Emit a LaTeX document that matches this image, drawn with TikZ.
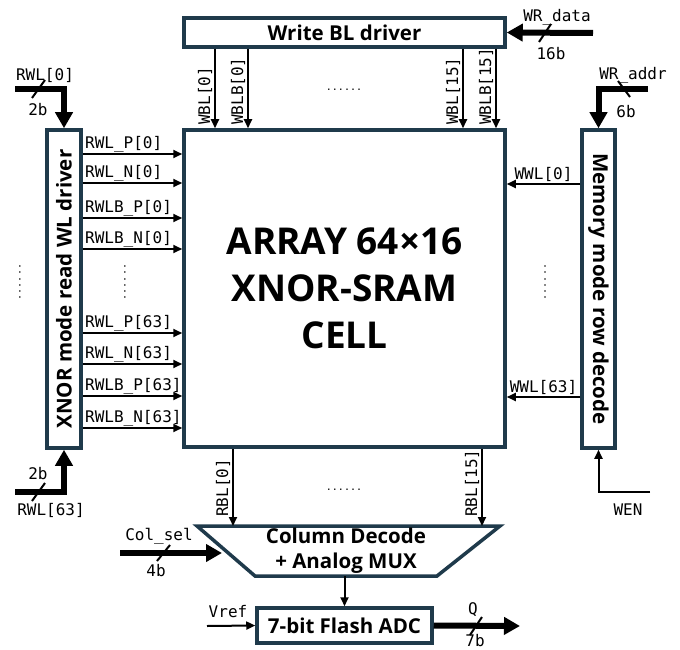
\documentclass[tikz,border=0pt]{standalone}
\usepackage{fontspec}
\setmainfont{Open Sans}
\setmonofont{DejaVu Sans Mono}
\usetikzlibrary{arrows.meta}
\definecolor{boxblue}{HTML}{1F3A4B}

\begin{document}
\begin{tikzpicture}[
			x=1pt, y=-1pt,
			box/.style={draw=boxblue, line width=3.5pt, fill=white, inner sep=0pt, font=\bfseries\fontsize{20.5}{25}\selectfont},
			title/.style={font=\bfseries\fontsize{20.5}{25}\selectfont, inner sep=0pt},
			sig/.style={line width=2pt, -{Triangle[length=9pt,width=8pt]}},
			bus/.style={line width=6pt, -{Triangle[length=16pt,width=17pt]}},
			slash/.style={line width=2pt},
			lbl/.style={font=\ttfamily\fontsize{16}{19}\selectfont, inner sep=1pt},
			dots/.style={font=\ttfamily\fontsize{10}{12}\selectfont, inner sep=0pt}
			]
			\useasboundingbox (0,0) rectangle (680,650);
			
			% blocks
			\node[box, minimum width=321pt, minimum height=29pt] (wbl) at (344.5,32.5) {Write BL driver};
			\node[box, minimum width=321pt, minimum height=317pt, align=center, font=\bfseries\fontsize{37}{47}\selectfont] (arr) at (344.5,288.5) {ARRAY 64×16\\XNOR-SRAM\\CELL};
			\node[box, minimum width=34pt, minimum height=318pt, label={[title, rotate=90]center:XNOR mode read WL driver}] (rwld) at (64,289) {};
			\node[box, minimum width=33pt, minimum height=318pt, label={[title, rotate=-90]center:Memory mode row decode}] (mrd) at (598.5,289) {};
			\node[box, minimum width=175pt, minimum height=35pt] (adc) at (344.5,625.5) {7-bit Flash ADC};
			\draw[draw=boxblue, line width=3.5pt, fill=white] (197,526) coordinate (mtl) -- (500,526) coordinate (mtr) -- (437,576) coordinate (mbr) -- (255,576) coordinate (mbl) -- cycle;
			\node[title, align=center] (mux) at (346,551) {Column Decode\\+ Analog MUX};
			
			% write bit lines
			\foreach \x/\t in {215/{WBL[0]}, 248/{WBLB[0]}, 463/{WBL[15]}, 496/{WBLB[15]}} {
				\draw[sig] (\x,0 |- wbl.south) -- (\x,0 |- arr.north);
				\node[lbl, rotate=90, anchor=south west] (wl\x) at (\x-1.5,126) {\t};
			}
			\node[dots] (dtop) at (344,90) {......};
			
			% read word lines
			\foreach \y/\t in {154/{RWL\_P[0]}, 183/{RWL\_N[0]}, 218/{RWLB\_P[0]}, 249/{RWLB\_N[0]}, 333/{RWL\_P[63]}, 364/{RWL\_N[63]}, 396/{RWLB\_P[63]}, 428/{RWLB\_N[63]}} {
				\draw[sig] (rwld.east |- 0,\y) -- (arr.west |- 0,\y);
				\node[lbl, anchor=south west] (rl\y) at (84,\y-1) {\t};
			}
			\node[dots, rotate=90] (dmid) at (125,282) {......};
			\node[dots, rotate=90] (dleft) at (20,282) {......};
			
			% write word lines
			\draw[sig] (mrd.west |- 0,184) -- (arr.east |- 0,184) node[lbl, midway, above] (ww0) {WWL[0]};
			\draw[sig] (mrd.west |- 0,397) -- (arr.east |- 0,397) node[lbl, midway, above] (ww63) {WWL[63]};
			\node[dots, rotate=90] (dright) at (545,282) {......};
			
			% buses in
			\coordinate (wrd) at (593,33);
			\draw[bus] (wrd) -- (wbl.east);
			\draw[slash] (539,42) -- (551,24);
			\node[lbl] (wrdl) at (557,17) {WR\_data};
			\node[lbl] (wrdb) at (551,54) {16b};
			
			\coordinate (wra) at (648,89);
			\draw[bus] (wra) -| (mrd.north);
			\draw[slash] (618,81) -- (630,97);
			\node[lbl] (wral) at (633,75) {WR\_addr};
			\node[lbl] (wrab) at (626,112) {6b};
			
			\coordinate (rwl0) at (15,89);
			\draw[bus] (rwl0) -| (rwld.north);
			\draw[slash] (32,98) -- (45,80);
			\node[lbl] (rwl0l) at (45,75) {RWL[0]};
			\node[lbl] (rwl0b) at (38,110) {2b};
			
			\coordinate (rwl63) at (15,492);
			\draw[bus] (rwl63) -| (rwld.south);
			\draw[slash] (32,501) -- (45,483);
			\node[lbl] (rwl63b) at (38,474) {2b};
			\node[lbl] (rwl63l) at (51,510) {RWL[63]};
			
			\coordinate (wen) at (650,492);
			\draw[sig] (wen) -| (mrd.south);
			\node[lbl] (wenl) at (628,510) {WEN};
			
			% read bit lines
			\foreach \x/\t in {233/{RBL[0]}, 482/{RBL[15]}} {
				\draw[sig] (\x,0 |- arr.south) -- (\x,0 |- mtl);
				\node[lbl, rotate=90, anchor=south west] (bl\x) at (\x-1.5,518) {\t};
			}
			\node[dots] (dbot) at (344,490) {......};
			
			% column select
			\coordinate (csel) at (120,553);
			\coordinate (mleft) at (222,553);
			\draw[bus] (csel) -- (mleft);
			\draw[slash] (157,561) -- (170,545);
			\node[lbl] (csell) at (159,536) {Col\_sel};
			\node[lbl] (cselb) at (156,571) {4b};
			
			% adc
			\draw[sig] (adc.north |- mbl) -- (adc.north);
			\coordinate (vref) at (207,626);
			\draw[sig] (vref) -- (adc.west);
			\node[lbl] (vrefl) at (228,612) {Vref};
			\coordinate (qout) at (520,626);
			\draw[bus] (adc.east) -- (qout);
			\draw[slash] (470,635) -- (482,617);
			\node[lbl] (ql) at (473,610) {Q};
			\node[lbl] (qb) at (475,641) {7b};
		\end{tikzpicture}
\end{document}
